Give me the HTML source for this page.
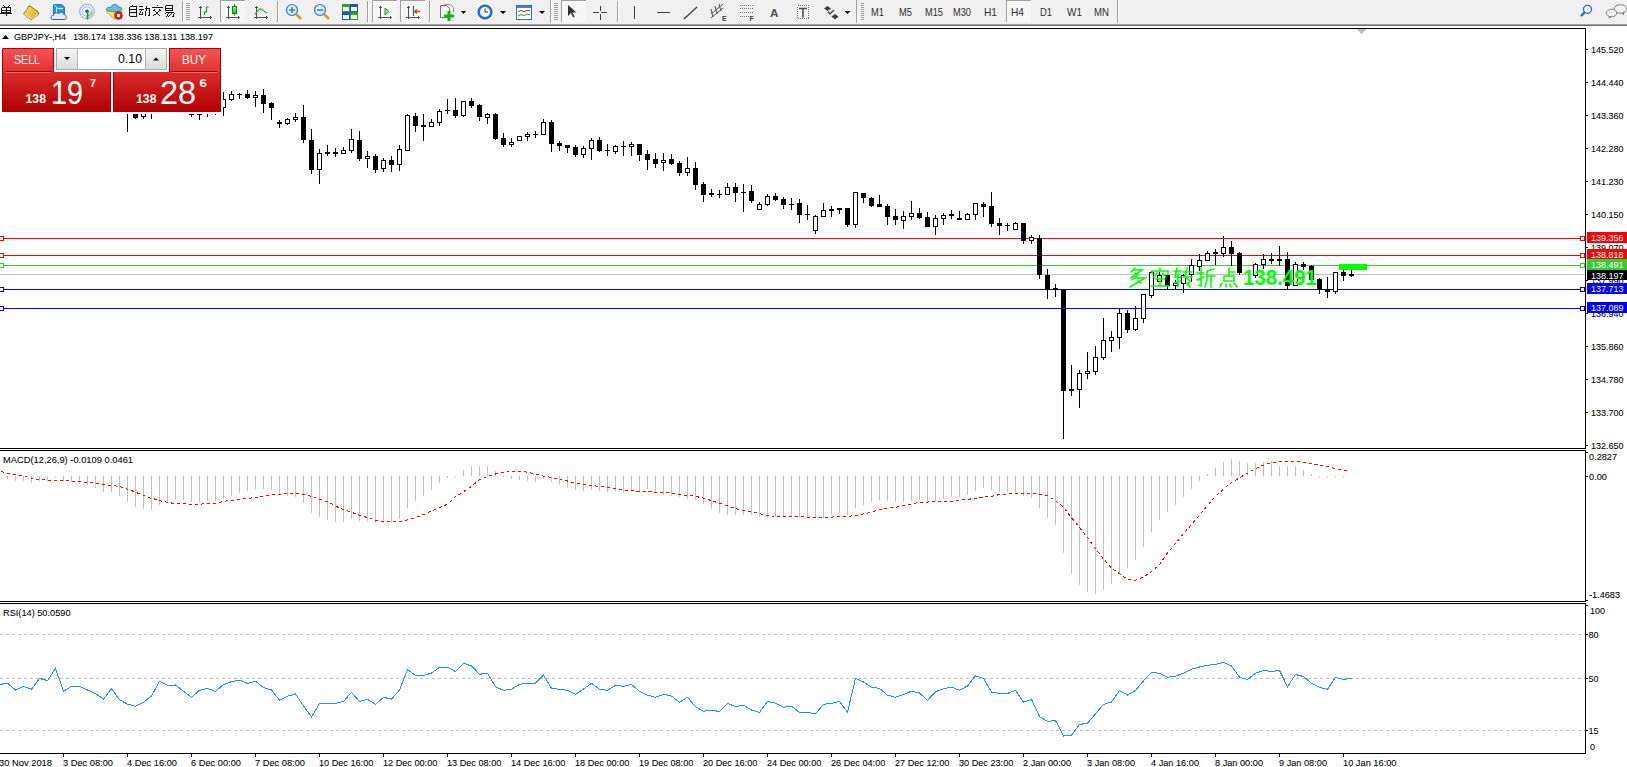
<!DOCTYPE html><html><head><meta charset="utf-8"><style>html,body{margin:0;padding:0;width:1627px;height:767px;overflow:hidden;background:#fff}svg{display:block}text{font-family:"Liberation Sans",sans-serif}.t{stroke:#000;stroke-width:0.08}</style></head><body>
<svg width="1627" height="767" viewBox="0 0 1627 767">
<g shape-rendering="crispEdges">
<rect x="0" y="0" width="1627" height="24" fill="#f0f0f0"/>
<rect x="0" y="24" width="1627" height="1" fill="#a0a0a0"/>
<rect x="0" y="25" width="1627" height="1" fill="#6e6e6e"/>
</g>
<g id="toolbar">
<defs>
<linearGradient id="gy" x1="0" y1="0" x2="1" y2="1"><stop offset="0" stop-color="#ffe680"/><stop offset="1" stop-color="#d9a000"/></linearGradient>
<linearGradient id="gb" x1="0" y1="0" x2="0" y2="1"><stop offset="0" stop-color="#48a8f0"/><stop offset="1" stop-color="#0060c8"/></linearGradient>
<radialGradient id="gl" cx="0.4" cy="0.35" r="0.7"><stop offset="0" stop-color="#ffffff"/><stop offset="1" stop-color="#b8def8"/></radialGradient>
<linearGradient id="gg" x1="0" y1="0" x2="0" y2="1"><stop offset="0" stop-color="#90f090"/><stop offset="1" stop-color="#10c020"/></linearGradient>
</defs>
<!-- 单 -->
<g stroke="#000" stroke-width="0.9" fill="none" shape-rendering="crispEdges">
<path d="M2.5 5l1.5 1.5M9.5 5l-1.5 1.5M1.5 7.5h9v5h-9zM1.5 10h9M6 7.5v8.5M0 13.5h11.5"/>
</g>
<!-- book -->
<path d="M29 5.5L38 11.5L38.8 14.5L31 19.5L23.5 14L27 9.5Z" fill="url(#gy)" stroke="#a86a10" stroke-width="1"/>
<path d="M24.5 14L31 18.3" stroke="#f8e8a8" stroke-width="1.3"/>
<path d="M31.5 18.5L38.3 14" stroke="#e8d8a0" stroke-width="1.2"/>
<!-- terminal/cloud icon -->
<path d="M53.5 4.5h8l3 2.5v8h-11z" fill="#1898f0" stroke="#1080e0" stroke-width="1"/>
<path d="M53.5 4.5l3 2.5v8" stroke="#e0f4ff" stroke-width="0.9" fill="none"/>
<path d="M57.5 8.5h5.5" stroke="#fff" stroke-width="1.3"/>
<path d="M52.5 19.5C50.3 19.5 50.5 15.2 53.5 15.2C54 12.8 57.3 12 58.8 13.8C60 11.5 63.5 12 63.8 14.5C66.5 14.5 67 19.5 64.8 19.5Z" fill="#e4eaf4" stroke="#4a5e98" stroke-width="1"/>
<!-- signal -->
<circle cx="87" cy="11.5" r="7.3" fill="none" stroke="#6a90d8" stroke-width="1" opacity="0.8"/>
<circle cx="87" cy="11.5" r="4.8" fill="none" stroke="#8ab0e0" stroke-width="1" opacity="0.8"/>
<path d="M87.5 11.5V19.3A7.8 7.8 0 0 0 94.8 11.5Z" fill="#b8dcb0" opacity="0.85"/>
<path d="M91.7 11.5A4.3 4.3 0 0 1 87.5 15.8" stroke="#78b870" stroke-width="1" fill="none"/>
<circle cx="87" cy="11.3" r="1.8" fill="#2050c8"/>
<path d="M87.5 11.5v8" stroke="#10a020" stroke-width="1.4"/>
<!-- hat -->
<path d="M106 11L122 11L117 16L114.5 19.5Z" fill="#f6e060" stroke="#d0a018" stroke-width="0.9"/>
<path d="M106.2 9.5C106.5 7 110 7 111 7.5C111.5 3.5 117.5 3 118.5 7.3C121 6.5 122.8 8.5 121.5 9.8C118 12.5 109 12 106.2 9.5Z" fill="#6cbce8" stroke="#2a86b4" stroke-width="0.9"/>
<circle cx="118.5" cy="15.5" r="3.9" fill="#e02818" stroke="#b01808" stroke-width="0.8"/>
<rect x="117" y="14" width="3" height="3" fill="#fff"/>
<!-- 自动交易 -->
<g stroke="#000" stroke-width="0.9" fill="none" shape-rendering="crispEdges">
<path d="M133 5l-1 1.5M129.5 6.5h7v9.5h-7zM129.5 9.5h7M129.5 12.5h7"/>
<path d="M139 6.5h4M138.5 9.5h5.5M141 9.5l-2 5h4M142 12l1 2.5M144.5 8h4.5v7.5h-1.5M146.5 5.5v3.5l-1.5 6.5"/>
<path d="M157 4.5v1.5M151.5 7h11M154.5 8.5l-2 2M159.5 8.5l2 2M154 10.5l6 5.5M160 10.5l-7 5.5"/>
<path d="M165.5 5.5h7v5h-7zM165.5 8h7M166.5 11.5l-2 2M166 12.5h8l-1 4h-1M168.5 12.5l-3 4M171 12.5l-3 4"/>
</g>
<!-- separators / grips -->
<g shape-rendering="crispEdges">
<rect x="182" y="1" width="1" height="21" fill="#a0a0a0"/><rect x="183" y="1" width="1" height="21" fill="#fff"/>
<path d="M186 3h4M186 5h4M186 7h4M186 9h4M186 11h4M186 13h4M186 15h4M186 17h4M186 19h4" stroke="#a0a0a0" stroke-width="1"/>
<rect x="277" y="1" width="1" height="21" fill="#a0a0a0"/><rect x="278" y="1" width="1" height="21" fill="#fff"/>
<rect x="367" y="1" width="1" height="21" fill="#a0a0a0"/><rect x="368" y="1" width="1" height="21" fill="#fff"/>
<rect x="429" y="1" width="1" height="21" fill="#a0a0a0"/><rect x="430" y="1" width="1" height="21" fill="#fff"/>
<rect x="550" y="0" width="1" height="23" fill="#a0a0a0"/><rect x="551" y="0" width="1" height="23" fill="#fff"/>
<path d="M554 3h4M554 5h4M554 7h4M554 9h4M554 11h4M554 13h4M554 15h4M554 17h4M554 19h4" stroke="#a0a0a0" stroke-width="1"/>
<rect x="617" y="1" width="1" height="21" fill="#a0a0a0"/><rect x="618" y="1" width="1" height="21" fill="#fff"/>
<rect x="856" y="0" width="1" height="23" fill="#a0a0a0"/><rect x="857" y="0" width="1" height="23" fill="#fff"/>
<path d="M861 3h3M861 5h3M861 7h3M861 9h3M861 11h3M861 13h3M861 15h3M861 17h3M861 19h3" stroke="#a0a0a0" stroke-width="1"/>
<rect x="1117" y="0" width="1" height="23" fill="#a0a0a0"/><rect x="1118" y="0" width="1" height="23" fill="#fff"/>
</g>
<!-- pressed buttons -->
<g shape-rendering="crispEdges">
<rect x="220" y="0" width="25" height="22" fill="#f6f6f6"/><rect x="220" y="0" width="25" height="1" fill="#a0a0a0"/><rect x="220" y="0" width="1" height="22" fill="#a0a0a0"/>
<rect x="372" y="0" width="25" height="22" fill="#f6f6f6"/><rect x="372" y="0" width="25" height="1" fill="#a0a0a0"/><rect x="372" y="0" width="1" height="22" fill="#a0a0a0"/>
<rect x="400" y="0" width="25" height="22" fill="#f6f6f6"/><rect x="400" y="0" width="25" height="1" fill="#a0a0a0"/><rect x="400" y="0" width="1" height="22" fill="#a0a0a0"/>
<rect x="561" y="0" width="25" height="22" fill="#f6f6f6"/><rect x="561" y="0" width="25" height="1" fill="#a0a0a0"/><rect x="561" y="0" width="1" height="22" fill="#a0a0a0"/>
<rect x="1006" y="0" width="25" height="22" fill="#f6f6f6"/><rect x="1006" y="0" width="25" height="1" fill="#a0a0a0"/><rect x="1006" y="0" width="1" height="22" fill="#a0a0a0"/>
</g>
<!-- chart type icons -->
<g stroke="#505050" stroke-width="1" fill="none" shape-rendering="crispEdges">
<path d="M200.5 6v13M198 17.5h14M199 8l1.5-1.5 1.5 1.5M210 16l1.5 1.5-1.5 1.5"/>
<path d="M228.5 6v13M226 17.5h14M227 8l1.5-1.5 1.5 1.5M238 16l1.5 1.5-1.5 1.5"/>
<path d="M256.5 6v13M254 17.5h14M255 8l1.5-1.5 1.5 1.5M266 16l1.5 1.5-1.5 1.5"/>
</g>
<path d="M204.5 15v-3h2v-5h2" stroke="#10a020" stroke-width="1.2" fill="none"/>
<rect x="232.5" y="6.5" width="4" height="7" fill="url(#gg)" stroke="#009010" stroke-width="1"/>
<path d="M234.5 4v2.5M234.5 13.5v2" stroke="#009010" stroke-width="1"/>
<path d="M255 14.5c2-3 4-6 6-5.5s3 3 6 4" stroke="#30a030" stroke-width="1.2" fill="none"/>
<!-- zoom icons -->
<circle cx="292" cy="10" r="5.5" fill="url(#gl)" stroke="#2878c8" stroke-width="1.2"/>
<path d="M289 10h6M292 7v6" stroke="#3880b0" stroke-width="1.6"/>
<path d="M296 14l5 5" stroke="#c8a020" stroke-width="2.6"/>
<circle cx="320" cy="10" r="5.5" fill="url(#gl)" stroke="#2878c8" stroke-width="1.2"/>
<path d="M317 10h6" stroke="#3880b0" stroke-width="1.6"/>
<path d="M324 14l5 5" stroke="#c8a020" stroke-width="2.6"/>
<!-- tile windows -->
<g shape-rendering="crispEdges">
<rect x="342" y="4" width="8" height="8" fill="#30a020"/><rect x="350" y="4" width="8" height="8" fill="#2050d0"/>
<rect x="342" y="12" width="8" height="8" fill="#2050d0"/><rect x="350" y="12" width="8" height="8" fill="#30a020"/>
<rect x="343" y="7" width="6" height="4" fill="#fff"/><rect x="351" y="7" width="6" height="4" fill="#fff"/>
<rect x="343" y="15" width="6" height="4" fill="#fff"/><rect x="351" y="15" width="6" height="4" fill="#fff"/>
</g>
<!-- autoscroll / shift -->
<g stroke="#505050" stroke-width="1" fill="none" shape-rendering="crispEdges">
<path d="M380.5 6v13M378 17.5h14M379 8l1.5-1.5 1.5 1.5M390 16l1.5 1.5-1.5 1.5"/>
<path d="M408.5 6v13M406 17.5h14M407 8l1.5-1.5 1.5 1.5M418 16l1.5 1.5-1.5 1.5"/>
</g>
<path d="M385 8l4 3.5-4 3.5z" fill="#90e090" stroke="#20a020" stroke-width="1"/>
<path d="M413.5 6v10" stroke="#2070b0" stroke-width="1.2"/>
<path d="M420 11.5h-5M417 9.5l-2.5 2 2.5 2" stroke="#e04010" stroke-width="1.3" fill="none"/>
<!-- new chart -->
<path d="M440.5 5.5h6l3 3v9h-9z" fill="#f4f4f4" stroke="#707070" stroke-width="1"/>
<path d="M444.5 4.5h6l3 3v5" fill="none" stroke="#909090" stroke-width="1"/>
<path d="M449 11v10M444 16h10" stroke="#10b020" stroke-width="3"/>
<path d="M461 11h5l-2.5 3z" fill="#000"/>
<!-- clock -->
<circle cx="485" cy="12" r="7" fill="#2878d8" stroke="#1050a0" stroke-width="1"/>
<circle cx="485" cy="12" r="5" fill="#f8f8f8"/>
<path d="M485 8.5v3.5h3" stroke="#303030" stroke-width="1" fill="none"/>
<path d="M500 11h6l-3 3z" fill="#000"/>
<!-- templates -->
<rect x="516.5" y="5.5" width="15" height="14" fill="#fff" stroke="#3070c0" stroke-width="1"/>
<rect x="517" y="6" width="14" height="2" fill="#4080d0"/>
<path d="M518 11.5l3-1 3 1 3-1 3 0" stroke="#c03010" stroke-width="1" fill="none"/>
<path d="M518 16l3-1.5 3 1 3-1.5 3 1" stroke="#20a020" stroke-width="1" fill="none"/>
<path d="M539 11h6l-3 3z" fill="#000"/>
<!-- drawing tools -->
<path d="M568 5v11l3-3 2 4.5 1.5-.7-2-4.3h4z" fill="#303030"/>
<g stroke="#404040" stroke-width="1" fill="none" shape-rendering="crispEdges">
<path d="M593 12.5h6M601 12.5h6M600.5 6v5M600.5 14v6"/>
<path d="M634.5 6v13"/>
<path d="M657 12.5h13"/>
</g>
<path d="M684 19l13-12" stroke="#404040" stroke-width="1.2"/>
<path d="M711 14l12-10M711 18l12-10M713 17l-2-8M717 14l-2-8M721 11l-2-7" stroke="#505050" stroke-width="1" fill="none"/>
<text x="722" y="21" font-size="7" font-weight="bold" fill="#404040">E</text>
<g stroke="#707070" stroke-width="1" stroke-dasharray="1,1" fill="none" shape-rendering="crispEdges">
<path d="M740 5.5h14M740 8.5h14M740 12.5h14M740 16.5h9"/>
</g>
<text x="749.5" y="20.5" font-size="7" font-weight="bold" fill="#404040">F</text>
<text x="770" y="17" font-size="11.5" font-weight="bold" fill="#505050" textLength="8.5" lengthAdjust="spacingAndGlyphs">A</text>
<rect x="797.5" y="5.5" width="11" height="13" fill="none" stroke="#707070" stroke-width="1" stroke-dasharray="1,1" shape-rendering="crispEdges"/>
<path d="M799 8.5h8M803 8.5v9" stroke="#505050" stroke-width="1.6" fill="none"/>
<path d="M827.5 6l3.5 2.5-3.5 2.5-3.5-2.5z" fill="#404040"/>
<path d="M828 11.5l2 2.5 4-4" stroke="#404040" stroke-width="1.3" fill="none"/>
<path d="M835 14l3.5 2.5-3.5 3-3.5-3z" fill="#404040"/>
<path d="M844.5 11h6l-3 3z" fill="#000"/>
<!-- periods -->
<g font-size="10.5" fill="#303030">
<text x="871" y="16" textLength="13" lengthAdjust="spacingAndGlyphs">M1</text>
<text x="899" y="16" textLength="13" lengthAdjust="spacingAndGlyphs">M5</text>
<text x="925" y="16" textLength="18" lengthAdjust="spacingAndGlyphs">M15</text>
<text x="953" y="16" textLength="18" lengthAdjust="spacingAndGlyphs">M30</text>
<text x="984" y="16" textLength="13" lengthAdjust="spacingAndGlyphs">H1</text>
<text x="1011" y="16" textLength="13" lengthAdjust="spacingAndGlyphs">H4</text>
<text x="1040" y="16" textLength="12" lengthAdjust="spacingAndGlyphs">D1</text>
<text x="1067" y="16" textLength="15" lengthAdjust="spacingAndGlyphs">W1</text>
<text x="1094" y="16" textLength="15" lengthAdjust="spacingAndGlyphs">MN</text>
</g>
<!-- search + chat -->
<circle cx="1587.5" cy="9.3" r="4" fill="#fafaff" stroke="#2868d0" stroke-width="1.3"/>
<path d="M1585 12l-4 4" stroke="#2060d0" stroke-width="2.3"/>
<ellipse cx="1620.5" cy="9" rx="6.3" ry="4.3" fill="#f2f2f6" stroke="#808080" stroke-width="1"/>
<path d="M1622 13l2 2.2v-2.5z" fill="#606060"/>
<ellipse cx="1611.5" cy="13" rx="5.2" ry="3.8" fill="#f2f2f6" stroke="#808080" stroke-width="1"/>
<path d="M1609.5 16.5l-1.2 2.2 3-2z" fill="#606060"/>
</g>

<g shape-rendering="crispEdges">
<rect x="0" y="274" width="1585" height="1" fill="#c0c0c0"/>
<rect x="0" y="238" width="1585" height="1" fill="#ff0000"/>
<rect x="-0.5" y="236.5" width="4" height="4" fill="#fff" stroke="#ff0000" stroke-width="1"/>
<rect x="1580.5" y="236.5" width="4" height="4" fill="#fff" stroke="#ff0000" stroke-width="1"/>
<rect x="0" y="255" width="1585" height="1" fill="#ff0000"/>
<rect x="-0.5" y="253.5" width="4" height="4" fill="#fff" stroke="#ff0000" stroke-width="1"/>
<rect x="1580.5" y="253.5" width="4" height="4" fill="#fff" stroke="#ff0000" stroke-width="1"/>
<rect x="0" y="265" width="1585" height="1" fill="#32cd32"/>
<rect x="-0.5" y="263.5" width="4" height="4" fill="#fff" stroke="#32cd32" stroke-width="1"/>
<rect x="1580.5" y="263.5" width="4" height="4" fill="#fff" stroke="#32cd32" stroke-width="1"/>
<rect x="0" y="289" width="1585" height="1" fill="#0000ff"/>
<rect x="-0.5" y="287.5" width="4" height="4" fill="#fff" stroke="#0000ff" stroke-width="1"/>
<rect x="1580.5" y="287.5" width="4" height="4" fill="#fff" stroke="#0000ff" stroke-width="1"/>
<rect x="0" y="308" width="1585" height="1" fill="#0000ff"/>
<rect x="-0.5" y="306.5" width="4" height="4" fill="#fff" stroke="#0000ff" stroke-width="1"/>
<rect x="1580.5" y="306.5" width="4" height="4" fill="#fff" stroke="#0000ff" stroke-width="1"/>
</g>
<g shape-rendering="crispEdges">
<path d="M127 100h1v32h-1zM125 100h5v1h-5zM135 100h1v19h-1zM133 105h5v13h-5zM143 100h1v19h-1zM141 105h5v12h-5zM151 100h1v19h-1zM149 105h5v6h-5zM191 100h1v17h-1zM189 105h5v10h-5zM199 100h1v20h-1zM197 105h5v10h-5zM207 100h1v17h-1zM205 105h5v6h-5zM215 100h1v15h-1zM213 105h5v6h-5zM223 92h1v24h-1zM221 99h5v9h-5zM231 91h1v10h-1zM229 94h5v6h-5zM239 93h1v6h-1zM237 94h5v1h-5zM247 90h1v9h-1zM245 94h5v4h-5zM255 91h1v16h-1zM253 95h5v3h-5zM263 89h1v24h-1zM261 95h5v9h-5zM271 102h1v18h-1zM269 103h5v5h-5zM279 120h1v8h-1zM277 122h5v2h-5zM287 118h1v7h-1zM285 119h5v5h-5zM295 113h1v9h-1zM293 117h5v3h-5zM303 105h1v38h-1zM301 117h5v23h-5zM311 129h1v45h-1zM309 140h5v30h-5zM319 149h1v35h-1zM317 153h5v17h-5zM327 145h1v11h-1zM325 152h5v2h-5zM335 148h1v9h-1zM333 152h5v2h-5zM343 147h1v7h-1zM341 150h5v4h-5zM351 129h1v24h-1zM349 139h5v12h-5zM359 131h1v30h-1zM357 140h5v19h-5zM367 151h1v17h-1zM365 156h5v3h-5zM375 154h1v19h-1zM373 156h5v14h-5zM383 158h1v14h-1zM381 160h5v9h-5zM391 156h1v16h-1zM389 160h5v5h-5zM399 145h1v26h-1zM397 149h5v16h-5zM407 114h1v37h-1zM405 115h5v36h-5zM415 113h1v19h-1zM413 116h5v10h-5zM423 114h1v27h-1zM421 125h5v2h-5zM431 119h1v8h-1zM429 122h5v5h-5zM439 109h1v17h-1zM437 111h5v12h-5zM447 99h1v15h-1zM445 110h5v1h-5zM455 98h1v20h-1zM453 110h5v6h-5zM463 101h1v16h-1zM461 101h5v15h-5zM471 98h1v10h-1zM469 101h5v5h-5zM479 104h1v17h-1zM477 105h5v12h-5zM487 113h1v11h-1zM485 114h5v4h-5zM495 113h1v27h-1zM493 114h5v25h-5zM503 133h1v14h-1zM501 138h5v7h-5zM511 138h1v9h-1zM509 142h5v3h-5zM519 136h1v5h-1zM517 136h5v5h-5zM527 132h1v9h-1zM525 134h5v3h-5zM535 131h1v7h-1zM533 134h5v1h-5zM543 119h1v16h-1zM541 122h5v13h-5zM551 120h1v32h-1zM549 122h5v22h-5zM559 141h1v10h-1zM557 143h5v3h-5zM567 145h1v8h-1zM565 145h5v3h-5zM575 145h1v12h-1zM573 147h5v8h-5zM583 146h1v12h-1zM581 148h5v7h-5zM591 138h1v22h-1zM589 140h5v9h-5zM599 137h1v15h-1zM597 140h5v11h-5zM607 144h1v12h-1zM605 150h5v1h-5zM615 145h1v9h-1zM613 146h5v6h-5zM623 141h1v15h-1zM621 146h5v1h-5zM631 142h1v14h-1zM629 144h5v3h-5zM639 144h1v17h-1zM637 144h5v11h-5zM647 150h1v20h-1zM645 154h5v6h-5zM655 153h1v15h-1zM653 159h5v5h-5zM663 153h1v18h-1zM661 160h5v3h-5zM671 154h1v11h-1zM669 159h5v5h-5zM679 161h1v15h-1zM677 163h5v10h-5zM687 157h1v19h-1zM685 168h5v5h-5zM695 162h1v28h-1zM693 168h5v17h-5zM703 182h1v20h-1zM701 184h5v11h-5zM711 189h1v8h-1zM709 193h5v2h-5zM719 190h1v8h-1zM717 194h5v1h-5zM727 183h1v12h-1zM725 187h5v8h-5zM735 183h1v19h-1zM733 187h5v6h-5zM743 184h1v28h-1zM741 192h5v1h-5zM751 185h1v18h-1zM749 191h5v10h-5zM759 202h1v8h-1zM757 204h5v6h-5zM767 194h1v12h-1zM765 196h5v9h-5zM775 193h1v8h-1zM773 196h5v4h-5zM783 197h1v12h-1zM781 199h5v6h-5zM791 198h1v12h-1zM789 204h5v1h-5zM799 199h1v24h-1zM797 203h5v12h-5zM807 205h1v15h-1zM805 214h5v1h-5zM815 215h1v19h-1zM813 216h5v15h-5zM823 203h1v14h-1zM821 210h5v7h-5zM831 206h1v11h-1zM829 209h5v2h-5zM839 208h1v6h-1zM837 208h5v2h-5zM847 208h1v19h-1zM845 208h5v17h-5zM855 192h1v36h-1zM853 192h5v33h-5zM863 193h1v10h-1zM861 193h5v5h-5zM871 197h1v10h-1zM869 198h5v8h-5zM879 195h1v12h-1zM877 204h5v3h-5zM887 204h1v21h-1zM885 206h5v11h-5zM895 209h1v16h-1zM893 216h5v4h-5zM903 211h1v18h-1zM901 216h5v5h-5zM911 201h1v19h-1zM909 213h5v4h-5zM919 208h1v11h-1zM917 213h5v5h-5zM927 212h1v15h-1zM925 217h5v10h-5zM935 215h1v20h-1zM933 218h5v9h-5zM943 213h1v12h-1zM941 215h5v4h-5zM951 210h1v9h-1zM949 214h5v2h-5zM959 211h1v9h-1zM957 218h5v2h-5zM967 213h1v7h-1zM965 214h5v6h-5zM975 203h1v17h-1zM973 203h5v12h-5zM983 202h1v15h-1zM981 204h5v3h-5zM991 192h1v35h-1zM989 206h5v18h-5zM999 218h1v17h-1zM997 223h5v3h-5zM1007 223h1v8h-1zM1005 225h5v1h-5zM1015 222h1v8h-1zM1013 223h5v7h-5zM1023 223h1v21h-1zM1021 223h5v18h-5zM1031 235h1v9h-1zM1029 237h5v4h-5zM1039 235h1v44h-1zM1037 238h5v37h-5zM1047 269h1v30h-1zM1045 275h5v15h-5zM1055 284h1v13h-1zM1053 288h5v2h-5zM1063 289h1v150h-1zM1061 289h5v102h-5zM1071 365h1v31h-1zM1069 389h5v2h-5zM1079 370h1v38h-1zM1077 373h5v17h-5zM1087 352h1v27h-1zM1085 371h5v3h-5zM1095 346h1v29h-1zM1093 357h5v15h-5zM1103 318h1v42h-1zM1101 340h5v18h-5zM1111 331h1v21h-1zM1109 337h5v4h-5zM1119 309h1v40h-1zM1117 313h5v25h-5zM1127 310h1v23h-1zM1125 313h5v17h-5zM1135 306h1v25h-1zM1133 318h5v12h-5zM1143 294h1v29h-1zM1141 294h5v25h-5zM1151 271h1v27h-1zM1149 272h5v24h-5zM1159 272h1v10h-1zM1157 275h5v7h-5zM1167 275h1v15h-1zM1165 275h5v11h-5zM1175 280h1v10h-1zM1173 283h5v3h-5zM1183 274h1v19h-1zM1181 275h5v9h-5zM1191 259h1v23h-1zM1189 265h5v10h-5zM1199 254h1v17h-1zM1197 260h5v7h-5zM1207 251h1v10h-1zM1205 253h5v8h-5zM1215 249h1v16h-1zM1213 252h5v2h-5zM1223 236h1v21h-1zM1221 247h5v7h-5zM1231 241h1v25h-1zM1229 247h5v7h-5zM1239 252h1v23h-1zM1237 253h5v20h-5zM1255 263h1v15h-1zM1253 264h5v12h-5zM1263 254h1v15h-1zM1261 259h5v6h-5zM1271 253h1v11h-1zM1269 259h5v2h-5zM1279 246h1v20h-1zM1277 259h5v2h-5zM1287 252h1v37h-1zM1285 259h5v27h-5zM1295 262h1v24h-1zM1293 264h5v22h-5zM1303 262h1v8h-1zM1301 264h5v3h-5zM1311 265h1v20h-1zM1309 266h5v14h-5zM1319 278h1v16h-1zM1317 279h5v11h-5zM1327 277h1v21h-1zM1325 289h5v3h-5zM1335 272h1v22h-1zM1333 272h5v20h-5zM1343 270h1v11h-1zM1341 272h5v4h-5zM1351 270h1v7h-1zM1349 274h5v2h-5z" fill="#000"/>
<path d="M142 106h3v10h-3zM190 106h3v8h-3zM198 106h3v8h-3zM206 106h3v4h-3zM214 106h3v4h-3zM222 100h3v7h-3zM230 95h3v4h-3zM254 96h3v1h-3zM286 120h3v3h-3zM294 118h3v1h-3zM318 154h3v15h-3zM342 151h3v2h-3zM350 140h3v10h-3zM366 157h3v1h-3zM382 161h3v7h-3zM398 150h3v14h-3zM406 116h3v34h-3zM430 123h3v3h-3zM438 112h3v10h-3zM462 102h3v13h-3zM486 115h3v2h-3zM510 143h3v1h-3zM518 137h3v3h-3zM526 135h3v1h-3zM542 123h3v11h-3zM582 149h3v5h-3zM590 141h3v7h-3zM614 147h3v4h-3zM630 145h3v1h-3zM662 161h3v1h-3zM686 169h3v3h-3zM726 188h3v6h-3zM758 205h3v4h-3zM766 197h3v7h-3zM814 217h3v13h-3zM822 211h3v5h-3zM854 193h3v31h-3zM902 217h3v3h-3zM910 214h3v2h-3zM934 219h3v7h-3zM942 216h3v2h-3zM966 215h3v4h-3zM974 204h3v10h-3zM1014 224h3v5h-3zM1030 238h3v2h-3zM1078 374h3v15h-3zM1086 372h3v1h-3zM1094 358h3v13h-3zM1102 341h3v16h-3zM1110 338h3v2h-3zM1118 314h3v23h-3zM1134 319h3v10h-3zM1142 295h3v23h-3zM1150 273h3v22h-3zM1158 276h3v5h-3zM1174 284h3v1h-3zM1182 276h3v7h-3zM1190 266h3v8h-3zM1198 261h3v5h-3zM1206 254h3v6h-3zM1222 248h3v5h-3zM1254 265h3v10h-3zM1262 260h3v4h-3zM1294 265h3v20h-3zM1334 273h3v18h-3z" fill="#fff"/>
<rect x="1339" y="264" width="28" height="6" fill="#00ff00"/>
</g>
<g shape-rendering="crispEdges" fill="#000">
<rect x="0" y="28" width="1586" height="1"/>
<rect x="1585" y="28" width="1" height="421"/>
<rect x="0" y="448" width="1586" height="1"/>
<rect x="0" y="450" width="1586" height="1"/>
<rect x="1585" y="450" width="1" height="152"/>
<rect x="0" y="601" width="1586" height="1"/>
<rect x="0" y="603" width="1586" height="1"/>
<rect x="1585" y="603" width="1" height="151"/>
<rect x="0" y="753" width="1586" height="1"/>
<rect x="1586" y="49" width="2" height="1"/>
<rect x="1586" y="82" width="2" height="1"/>
<rect x="1586" y="115" width="2" height="1"/>
<rect x="1586" y="148" width="2" height="1"/>
<rect x="1586" y="181" width="2" height="1"/>
<rect x="1586" y="214" width="2" height="1"/>
<rect x="1586" y="247" width="2" height="1"/>
<rect x="1586" y="280" width="2" height="1"/>
<rect x="1586" y="313" width="2" height="1"/>
<rect x="1586" y="346" width="2" height="1"/>
<rect x="1586" y="379" width="2" height="1"/>
<rect x="1586" y="412" width="2" height="1"/>
<rect x="1586" y="445" width="2" height="1"/>
<rect x="1586" y="452" width="2" height="1"/>
<rect x="1586" y="476" width="2" height="1"/>
<rect x="1586" y="600" width="2" height="1"/>
<rect x="1586" y="605" width="2" height="1"/>
<rect x="1586" y="634" width="2" height="1"/>
<rect x="1586" y="678" width="2" height="1"/>
<rect x="1586" y="730" width="2" height="1"/>
<rect x="63" y="754" width="1" height="3"/>
<rect x="127" y="754" width="1" height="3"/>
<rect x="191" y="754" width="1" height="3"/>
<rect x="255" y="754" width="1" height="3"/>
<rect x="319" y="754" width="1" height="3"/>
<rect x="383" y="754" width="1" height="3"/>
<rect x="447" y="754" width="1" height="3"/>
<rect x="511" y="754" width="1" height="3"/>
<rect x="575" y="754" width="1" height="3"/>
<rect x="639" y="754" width="1" height="3"/>
<rect x="703" y="754" width="1" height="3"/>
<rect x="767" y="754" width="1" height="3"/>
<rect x="831" y="754" width="1" height="3"/>
<rect x="895" y="754" width="1" height="3"/>
<rect x="959" y="754" width="1" height="3"/>
<rect x="1023" y="754" width="1" height="3"/>
<rect x="1087" y="754" width="1" height="3"/>
<rect x="1151" y="754" width="1" height="3"/>
<rect x="1215" y="754" width="1" height="3"/>
<rect x="1279" y="754" width="1" height="3"/>
<rect x="1343" y="754" width="1" height="3"/>
</g>
<path d="M1356 29h10l-5 5z" fill="#c0c0c0" shape-rendering="crispEdges"/>
<text x="1591" y="53" font-size="9.6" fill="#000" textLength="32.5" lengthAdjust="spacingAndGlyphs" class="t" >145.520</text>
<text x="1591" y="86" font-size="9.6" fill="#000" textLength="32.5" lengthAdjust="spacingAndGlyphs" class="t" >144.440</text>
<text x="1591" y="119" font-size="9.6" fill="#000" textLength="32.5" lengthAdjust="spacingAndGlyphs" class="t" >143.360</text>
<text x="1591" y="152" font-size="9.6" fill="#000" textLength="32.5" lengthAdjust="spacingAndGlyphs" class="t" >142.280</text>
<text x="1591" y="185" font-size="9.6" fill="#000" textLength="32.5" lengthAdjust="spacingAndGlyphs" class="t" >141.230</text>
<text x="1591" y="218" font-size="9.6" fill="#000" textLength="32.5" lengthAdjust="spacingAndGlyphs" class="t" >140.150</text>
<text x="1591" y="251" font-size="9.6" fill="#000" textLength="32.5" lengthAdjust="spacingAndGlyphs" class="t" >139.070</text>
<text x="1591" y="284" font-size="9.6" fill="#000" textLength="32.5" lengthAdjust="spacingAndGlyphs" class="t" >137.990</text>
<text x="1591" y="317" font-size="9.6" fill="#000" textLength="32.5" lengthAdjust="spacingAndGlyphs" class="t" >136.940</text>
<text x="1591" y="350" font-size="9.6" fill="#000" textLength="32.5" lengthAdjust="spacingAndGlyphs" class="t" >135.860</text>
<text x="1591" y="383" font-size="9.6" fill="#000" textLength="32.5" lengthAdjust="spacingAndGlyphs" class="t" >134.780</text>
<text x="1591" y="416" font-size="9.6" fill="#000" textLength="32.5" lengthAdjust="spacingAndGlyphs" class="t" >133.700</text>
<text x="1591" y="449" font-size="9.6" fill="#000" textLength="32.5" lengthAdjust="spacingAndGlyphs" class="t" >132.650</text>
<rect x="1587" y="270" width="40" height="10" fill="#000" shape-rendering="crispEdges"/>
<text x="1591" y="279" font-size="9.6" fill="#fff" textLength="32.5" lengthAdjust="spacingAndGlyphs" >138.197</text>
<rect x="1587" y="232" width="40" height="11" fill="#ff0000" shape-rendering="crispEdges"/>
<text x="1591" y="241" font-size="9.6" fill="#fff" textLength="32.5" lengthAdjust="spacingAndGlyphs" >139.356</text>
<rect x="1587" y="249" width="40" height="11" fill="#ff0000" shape-rendering="crispEdges"/>
<text x="1591" y="258" font-size="9.6" fill="#fff" textLength="32.5" lengthAdjust="spacingAndGlyphs" >138.818</text>
<rect x="1587" y="259" width="40" height="11" fill="#32cd32" shape-rendering="crispEdges"/>
<text x="1591" y="268" font-size="9.6" fill="#fff" textLength="32.5" lengthAdjust="spacingAndGlyphs" >138.491</text>
<rect x="1587" y="283" width="40" height="11" fill="#0000ff" shape-rendering="crispEdges"/>
<text x="1591" y="292" font-size="9.6" fill="#fff" textLength="32.5" lengthAdjust="spacingAndGlyphs" >137.713</text>
<rect x="1587" y="302" width="40" height="11" fill="#0000ff" shape-rendering="crispEdges"/>
<text x="1591" y="311" font-size="9.6" fill="#fff" textLength="32.5" lengthAdjust="spacingAndGlyphs" >137.089</text>
<text x="1589" y="460" font-size="9.6" fill="#000" textLength="28" lengthAdjust="spacingAndGlyphs" class="t" >0.2827</text>
<text x="1589" y="480" font-size="9.6" fill="#000" textLength="18" lengthAdjust="spacingAndGlyphs" class="t" >0.00</text>
<text x="1589" y="598" font-size="9.6" fill="#000" textLength="31" lengthAdjust="spacingAndGlyphs" class="t" >-1.4683</text>
<text x="1590" y="614" font-size="9.6" fill="#000" textLength="15" lengthAdjust="spacingAndGlyphs" class="t" >100</text>
<text x="1588.5" y="638" font-size="9.6" fill="#000" textLength="10" lengthAdjust="spacingAndGlyphs" class="t" >80</text>
<text x="1588.5" y="682" font-size="9.6" fill="#000" textLength="10" lengthAdjust="spacingAndGlyphs" class="t" >50</text>
<text x="1588.5" y="734" font-size="9.6" fill="#000" textLength="10" lengthAdjust="spacingAndGlyphs" class="t" >15</text>
<text x="1590" y="750" font-size="9.6" fill="#000" textLength="5" lengthAdjust="spacingAndGlyphs" class="t" >0</text>
<path d="M7 476h1v3h-1zM15 476h1v5h-1zM23 476h1v5h-1zM31 476h1v7h-1zM39 476h1v5h-1zM47 476h1v5h-1zM55 476h1v1h-1zM63 476h1v5h-1zM71 476h1v6h-1zM79 476h1v8h-1zM87 476h1v9h-1zM95 476h1v12h-1zM103 476h1v16h-1zM111 476h1v16h-1zM119 476h1v20h-1zM127 476h1v26h-1zM135 476h1v31h-1zM143 476h1v33h-1zM151 476h1v34h-1zM159 476h1v29h-1zM167 476h1v26h-1zM175 476h1v24h-1zM183 476h1v24h-1zM191 476h1v26h-1zM199 476h1v26h-1zM207 476h1v25h-1zM215 476h1v25h-1zM223 476h1v23h-1zM231 476h1v20h-1zM239 476h1v17h-1zM247 476h1v15h-1zM255 476h1v13h-1zM263 476h1v13h-1zM271 476h1v14h-1zM279 476h1v18h-1zM287 476h1v20h-1zM295 476h1v21h-1zM303 476h1v27h-1zM311 476h1v37h-1zM319 476h1v41h-1zM327 476h1v44h-1zM335 476h1v46h-1zM343 476h1v46h-1zM351 476h1v43h-1zM359 476h1v45h-1zM367 476h1v45h-1zM375 476h1v47h-1zM383 476h1v47h-1zM391 476h1v47h-1zM399 476h1v43h-1zM407 476h1v32h-1zM415 476h1v25h-1zM423 476h1v20h-1zM431 476h1v14h-1zM439 476h1v7h-1zM447 476h1v2h-1zM455 476h1v1h-1zM463 470h1v6h-1zM471 466h1v10h-1zM479 466h1v10h-1zM487 466h1v10h-1zM495 471h1v5h-1zM503 476h1v1h-1zM511 476h1v3h-1zM519 476h1v4h-1zM527 476h1v5h-1zM535 476h1v6h-1zM543 476h1v3h-1zM551 476h1v6h-1zM559 476h1v9h-1zM567 476h1v11h-1zM575 476h1v14h-1zM583 476h1v15h-1zM591 476h1v14h-1zM599 476h1v15h-1zM607 476h1v16h-1zM615 476h1v15h-1zM623 476h1v17h-1zM631 476h1v15h-1zM639 476h1v15h-1zM647 476h1v13h-1zM655 476h1v17h-1zM663 476h1v19h-1zM671 476h1v20h-1zM679 476h1v21h-1zM687 476h1v23h-1zM695 476h1v24h-1zM703 476h1v28h-1zM711 476h1v33h-1zM719 476h1v37h-1zM727 476h1v39h-1zM735 476h1v39h-1zM743 476h1v39h-1zM751 476h1v39h-1zM759 476h1v41h-1zM767 476h1v42h-1zM775 476h1v41h-1zM783 476h1v40h-1zM791 476h1v41h-1zM799 476h1v41h-1zM807 476h1v42h-1zM815 476h1v42h-1zM823 476h1v42h-1zM831 476h1v39h-1zM839 476h1v37h-1zM847 476h1v39h-1zM855 476h1v32h-1zM863 476h1v29h-1zM871 476h1v26h-1zM879 476h1v24h-1zM887 476h1v25h-1zM895 476h1v26h-1zM903 476h1v26h-1zM911 476h1v25h-1zM919 476h1v24h-1zM927 476h1v26h-1zM935 476h1v26h-1zM943 476h1v23h-1zM951 476h1v21h-1zM959 476h1v21h-1zM967 476h1v19h-1zM975 476h1v15h-1zM983 476h1v12h-1zM991 476h1v14h-1zM999 476h1v16h-1zM1007 476h1v16h-1zM1015 476h1v16h-1zM1023 476h1v20h-1zM1031 476h1v22h-1zM1039 476h1v32h-1zM1047 476h1v42h-1zM1055 476h1v49h-1zM1063 476h1v77h-1zM1071 476h1v98h-1zM1079 476h1v109h-1zM1087 476h1v116h-1zM1095 476h1v118h-1zM1103 476h1v114h-1zM1111 476h1v108h-1zM1119 476h1v98h-1zM1127 476h1v92h-1zM1135 476h1v84h-1zM1143 476h1v71h-1zM1151 476h1v56h-1zM1159 476h1v44h-1zM1167 476h1v36h-1zM1175 476h1v29h-1zM1183 476h1v21h-1zM1191 476h1v13h-1zM1199 476h1v5h-1zM1207 474h1v2h-1zM1215 468h1v8h-1zM1223 462h1v14h-1zM1231 459h1v17h-1zM1239 461h1v15h-1zM1247 463h1v13h-1zM1255 463h1v13h-1zM1263 462h1v14h-1zM1271 461h1v15h-1zM1279 466h1v10h-1zM1287 466h1v10h-1zM1295 466h1v10h-1zM1303 470h1v6h-1zM1311 474h1v2h-1zM1319 476h1v1h-1zM1327 476h1v1h-1zM1335 476h1v1h-1zM1343 476h1v1h-1z" fill="#c0c0c0" shape-rendering="crispEdges"/>
<polyline points="1.2,471.4 6.4,473.0 12.3,474.2 18.4,475.4 24.2,476.4 30.1,477.9 36.3,479.1 42.0,479.5 48.2,480.4 54.3,480.4 60.5,480.4 66.6,480.6 72.5,481.3 78.3,481.3 84.8,482.2 90.6,482.6 96.5,483.4 102.3,484.4 108.4,485.3 114.3,485.7 120.5,486.9 126.6,489.0 132.4,491.0 138.3,493.3 144.4,495.7 150.6,498.2 156.4,499.4 162.3,501.3 168.0,502.5 174.2,503.4 180.1,503.4 186.2,503.7 192.4,504.3 199.5,504.3 207.5,503.5 215.5,503.5 223.5,501.3 231.5,500.4 239.5,499.4 247.5,498.4 255.5,497.6 263.5,496.3 271.5,494.5 279.5,494.5 287.5,493.5 295.5,493.5 303.5,494.5 311.5,496.3 319.5,499.4 327.5,501.6 335.5,506.2 343.5,509.5 351.5,512.3 359.5,515.2 367.5,517.6 375.5,520.3 383.5,521.3 391.5,521.4 399.5,521.4 407.5,519.9 415.5,517.7 423.5,514.6 431.5,510.9 439.5,507.6 447.5,504.2 455.5,496.8 463.5,491.6 471.5,486.3 479.5,479.6 487.5,476.5 495.5,474.0 503.5,472.5 511.5,471.3 519.5,471.3 527.5,472.2 535.5,474.0 543.5,476.1 551.5,477.5 559.5,479.6 567.5,481.0 575.5,483.5 583.5,484.4 591.5,485.3 599.5,486.5 607.5,487.5 615.5,488.6 623.5,490.2 631.5,490.4 639.5,491.4 647.5,491.4 655.5,492.4 663.5,492.4 671.5,493.3 679.5,494.5 687.5,495.5 695.5,496.3 703.5,498.2 711.5,500.6 719.5,503.4 727.5,505.6 735.5,508.6 743.5,510.5 751.5,511.5 759.5,513.6 767.5,515.4 775.5,516.4 783.5,516.4 791.5,516.4 799.5,516.4 807.5,517.2 815.5,517.2 823.5,517.2 831.5,517.2 839.5,516.4 847.5,516.4 855.5,515.4 863.5,513.9 871.5,512.3 879.5,509.3 887.5,508.3 895.5,507.4 903.5,505.6 911.5,504.1 919.5,502.1 927.5,502.1 935.5,501.3 943.5,501.3 951.5,501.3 959.5,500.3 967.5,499.3 975.5,498.5 983.5,497.1 991.5,496.3 999.5,494.6 1007.5,494.1 1015.5,493.4 1023.5,493.4 1031.5,493.7 1039.5,494.1 1047.5,495.8 1055.5,500.5 1063.5,507.3 1071.5,517.8 1079.5,527.6 1087.5,537.5 1095.5,548.8 1103.5,559.0 1111.5,568.0 1119.5,573.7 1127.5,579.3 1135.5,580.2 1143.5,577.1 1151.5,571.5 1159.5,564.7 1167.5,552.8 1175.5,543.5 1183.5,533.7 1191.5,524.5 1199.5,515.0 1207.5,505.4 1215.5,496.4 1223.5,489.0 1231.5,482.5 1239.5,477.8 1247.5,473.2 1255.5,468.6 1263.5,465.2 1271.5,462.5 1279.5,461.7 1287.5,461.3 1295.5,461.3 1303.5,462.2 1311.5,463.5 1319.5,465.2 1327.5,466.4 1335.5,468.6 1343.5,469.8 1349.0,471.5" fill="none" stroke="#ff0000" stroke-width="1" stroke-dasharray="3,3" shape-rendering="crispEdges"/>
<g shape-rendering="crispEdges">
<line x1="0" y1="634.5" x2="1585" y2="634.5" stroke="#c0c0c0" stroke-width="1" stroke-dasharray="3,3"/>
<line x1="0" y1="678.5" x2="1585" y2="678.5" stroke="#c0c0c0" stroke-width="1" stroke-dasharray="3,3"/>
<line x1="0" y1="730.5" x2="1585" y2="730.5" stroke="#c0c0c0" stroke-width="1" stroke-dasharray="3,3"/>
</g>
<polyline points="0.0,684.4 7.5,683.2 15.5,690.0 23.5,686.3 31.5,689.3 39.5,678.5 47.5,680.5 55.5,668.4 63.5,691.2 71.5,686.3 79.5,686.3 87.5,690.0 95.5,693.6 103.5,699.2 111.5,688.7 119.5,699.8 127.5,704.1 135.5,706.3 143.5,702.2 151.5,696.1 159.5,681.3 167.5,685.4 175.5,685.0 183.5,691.2 191.5,697.3 199.5,690.3 207.5,688.4 215.5,691.5 223.5,684.4 231.5,681.7 239.5,680.1 247.5,683.4 255.5,681.3 263.5,687.5 271.5,690.0 279.5,700.2 287.5,696.1 295.5,694.0 303.5,705.9 311.5,717.0 319.5,703.5 327.5,703.5 335.5,703.5 343.5,701.4 351.5,692.4 359.5,701.4 367.5,699.4 375.5,704.3 383.5,697.3 391.5,699.2 399.5,690.0 407.5,669.4 415.5,675.6 423.5,675.6 431.5,673.1 439.5,667.2 447.5,667.2 455.5,671.5 463.5,663.3 471.5,666.0 479.5,674.3 487.5,673.1 495.5,686.9 503.5,690.3 511.5,689.3 519.5,684.4 527.5,683.2 535.5,683.2 543.5,675.2 551.5,688.4 559.5,689.3 567.5,690.3 575.5,694.3 583.5,689.1 591.5,683.2 599.5,689.3 607.5,690.3 615.5,685.4 623.5,686.3 631.5,684.4 639.5,691.2 647.5,695.2 655.5,697.3 663.5,694.3 671.5,696.1 679.5,702.2 687.5,697.3 695.5,706.8 703.5,711.2 711.5,710.2 719.5,711.5 727.5,703.5 735.5,706.5 743.5,705.3 751.5,710.0 759.5,712.4 767.5,701.4 775.5,703.1 783.5,707.2 791.5,706.3 799.5,712.4 807.5,712.4 815.5,713.7 823.5,704.3 831.5,703.5 839.5,701.4 847.5,712.1 855.5,678.3 863.5,682.0 871.5,687.1 879.5,688.4 887.5,695.2 895.5,697.3 903.5,694.5 911.5,691.2 919.5,693.0 927.5,700.4 935.5,691.8 943.5,688.7 951.5,687.1 959.5,690.3 967.5,686.0 975.5,675.7 983.5,678.4 991.5,692.1 999.5,693.4 1007.5,693.4 1015.5,690.4 1023.5,702.3 1031.5,699.5 1039.5,716.5 1047.5,721.4 1055.5,720.4 1063.5,736.1 1071.5,735.1 1079.5,724.5 1087.5,723.2 1095.5,713.8 1103.5,704.4 1111.5,702.0 1119.5,690.6 1127.5,695.0 1135.5,690.4 1143.5,680.8 1151.5,672.5 1159.5,673.2 1167.5,677.2 1175.5,676.2 1183.5,673.1 1191.5,669.1 1199.5,667.0 1207.5,665.4 1215.5,664.3 1223.5,662.3 1231.5,666.0 1239.5,677.2 1247.5,679.5 1255.5,673.1 1263.5,670.4 1271.5,671.4 1279.5,670.4 1287.5,686.7 1295.5,674.5 1303.5,676.5 1311.5,683.3 1319.5,687.3 1327.5,689.4 1335.5,677.2 1343.5,679.5 1351.5,678.3" fill="none" stroke="#1e90ff" stroke-width="1" shape-rendering="crispEdges"/>
<path d="M2 39h7l-3.5-4z" fill="#000"/>
<text x="14" y="40" font-size="9.6" fill="#000" textLength="52" lengthAdjust="spacingAndGlyphs" class="t" >GBPJPY-,H4</text>
<text x="73" y="40" font-size="9.6" fill="#000" textLength="140" lengthAdjust="spacingAndGlyphs" class="t" >138.174 138.336 138.131 138.197</text>
<text x="3" y="463" font-size="9.6" fill="#000" textLength="130" lengthAdjust="spacingAndGlyphs" class="t" >MACD(12,26,9) -0.0109 0.0461</text>
<text x="3" y="616" font-size="9.6" fill="#000" textLength="67.5" lengthAdjust="spacingAndGlyphs" class="t" >RSI(14) 50.0590</text>
<text x="-1" y="766" font-size="9.6" fill="#000" textLength="53" lengthAdjust="spacingAndGlyphs" class="t" >30 Nov 2018</text>
<text x="63" y="766" font-size="9.6" fill="#000" textLength="50" lengthAdjust="spacingAndGlyphs" class="t" >3 Dec 08:00</text>
<text x="127" y="766" font-size="9.6" fill="#000" textLength="50" lengthAdjust="spacingAndGlyphs" class="t" >4 Dec 16:00</text>
<text x="191" y="766" font-size="9.6" fill="#000" textLength="50" lengthAdjust="spacingAndGlyphs" class="t" >6 Dec 00:00</text>
<text x="255" y="766" font-size="9.6" fill="#000" textLength="50" lengthAdjust="spacingAndGlyphs" class="t" >7 Dec 08:00</text>
<text x="319" y="766" font-size="9.6" fill="#000" textLength="54.3" lengthAdjust="spacingAndGlyphs" class="t" >10 Dec 16:00</text>
<text x="383" y="766" font-size="9.6" fill="#000" textLength="54.3" lengthAdjust="spacingAndGlyphs" class="t" >12 Dec 00:00</text>
<text x="447" y="766" font-size="9.6" fill="#000" textLength="54.3" lengthAdjust="spacingAndGlyphs" class="t" >13 Dec 08:00</text>
<text x="511" y="766" font-size="9.6" fill="#000" textLength="54.3" lengthAdjust="spacingAndGlyphs" class="t" >14 Dec 16:00</text>
<text x="575" y="766" font-size="9.6" fill="#000" textLength="54.3" lengthAdjust="spacingAndGlyphs" class="t" >18 Dec 00:00</text>
<text x="639" y="766" font-size="9.6" fill="#000" textLength="54.3" lengthAdjust="spacingAndGlyphs" class="t" >19 Dec 08:00</text>
<text x="703" y="766" font-size="9.6" fill="#000" textLength="54.3" lengthAdjust="spacingAndGlyphs" class="t" >20 Dec 16:00</text>
<text x="767" y="766" font-size="9.6" fill="#000" textLength="54.3" lengthAdjust="spacingAndGlyphs" class="t" >24 Dec 00:00</text>
<text x="831" y="766" font-size="9.6" fill="#000" textLength="54.3" lengthAdjust="spacingAndGlyphs" class="t" >26 Dec 04:00</text>
<text x="895" y="766" font-size="9.6" fill="#000" textLength="54.3" lengthAdjust="spacingAndGlyphs" class="t" >27 Dec 12:00</text>
<text x="959" y="766" font-size="9.6" fill="#000" textLength="54.3" lengthAdjust="spacingAndGlyphs" class="t" >30 Dec 23:00</text>
<text x="1023" y="766" font-size="9.6" fill="#000" textLength="48" lengthAdjust="spacingAndGlyphs" class="t" >2 Jan 00:00</text>
<text x="1087" y="766" font-size="9.6" fill="#000" textLength="48" lengthAdjust="spacingAndGlyphs" class="t" >3 Jan 08:00</text>
<text x="1151" y="766" font-size="9.6" fill="#000" textLength="48" lengthAdjust="spacingAndGlyphs" class="t" >4 Jan 16:00</text>
<text x="1215" y="766" font-size="9.6" fill="#000" textLength="48" lengthAdjust="spacingAndGlyphs" class="t" >8 Jan 00:00</text>
<text x="1279" y="766" font-size="9.6" fill="#000" textLength="48" lengthAdjust="spacingAndGlyphs" class="t" >9 Jan 08:00</text>
<text x="1343" y="766" font-size="9.6" fill="#000" textLength="53.5" lengthAdjust="spacingAndGlyphs" class="t" >10 Jan 16:00</text>
<g id="overlay">
<defs>
<linearGradient id="rt" x1="0" y1="0" x2="0" y2="1"><stop offset="0" stop-color="#f65555"/><stop offset="1" stop-color="#e03030"/></linearGradient>
<linearGradient id="rb" x1="0" y1="0" x2="0" y2="1"><stop offset="0" stop-color="#dc2c2c"/><stop offset="1" stop-color="#b00000"/></linearGradient>
<linearGradient id="bt" x1="0" y1="0" x2="0" y2="1"><stop offset="0" stop-color="#f4f4f4"/><stop offset="1" stop-color="#dcdcdc"/></linearGradient>
</defs>
<g shape-rendering="crispEdges">
<!-- white backing -->
<rect x="0" y="46" width="223" height="68" fill="#fff"/>
<!-- SELL tab + block -->
<rect x="2" y="48" width="52" height="24" fill="url(#rt)"/>
<rect x="2" y="72" width="109" height="40" fill="url(#rb)"/>
<rect x="6" y="71" width="45" height="1" fill="#a00000"/>
<rect x="6" y="72" width="45" height="1" fill="#f07070"/>
<!-- BUY tab + block -->
<rect x="169" y="48" width="52" height="24" fill="url(#rt)"/>
<rect x="113" y="72" width="108" height="40" fill="url(#rb)"/>
<rect x="172" y="71" width="45" height="1" fill="#a00000"/>
<rect x="172" y="72" width="45" height="1" fill="#f07070"/>
<!-- borders -->
<path d="M2.5 48.5h51v23M2.5 48.5v63h108v-40M169.5 71.5v-23h51v63h-107v-40" fill="none" stroke="#b00000" stroke-width="1"/>
<!-- spinner -->
<rect x="56.5" y="48.5" width="110" height="21" fill="#fff" stroke="#a8a8a8" stroke-width="1"/>
<rect x="57" y="49" width="20" height="20" fill="url(#bt)"/>
<rect x="77" y="49" width="1" height="20" fill="#b0b0b0"/>
<rect x="146" y="49" width="20" height="20" fill="url(#bt)"/>
<rect x="145" y="49" width="1" height="20" fill="#b0b0b0"/>
</g>
<path d="M64 57h6l-3 3z" fill="#000"/>
<path d="M153 60.5h6l-3-3z" fill="#000"/>
<text x="142" y="63" font-size="12" fill="#000" text-anchor="end" textLength="24" lengthAdjust="spacingAndGlyphs">0.10</text>
<text x="14" y="64" font-size="12" fill="#fff" textLength="26" lengthAdjust="spacingAndGlyphs">SELL</text>
<text x="182" y="64" font-size="12" fill="#fff" textLength="24" lengthAdjust="spacingAndGlyphs">BUY</text>
<text x="25.5" y="103" font-size="12" font-weight="bold" fill="#fff" textLength="20.5" lengthAdjust="spacingAndGlyphs">138</text>
<text x="51" y="103.5" font-size="33" fill="#fff" textLength="32" lengthAdjust="spacingAndGlyphs">19</text>
<text x="90" y="86.5" font-size="11" font-weight="bold" fill="#fff" textLength="6" lengthAdjust="spacingAndGlyphs">7</text>
<text x="136" y="103" font-size="12" font-weight="bold" fill="#fff" textLength="20.5" lengthAdjust="spacingAndGlyphs">138</text>
<text x="160" y="103.5" font-size="33" fill="#fff" textLength="36" lengthAdjust="spacingAndGlyphs">28</text>
<text x="199.5" y="86.5" font-size="11" font-weight="bold" fill="#fff" textLength="7.5" lengthAdjust="spacingAndGlyphs">6</text>
<!-- green chinese text 多空转折点 -->
<g stroke="#00ff00" stroke-width="1.6" fill="none" stroke-linecap="round">
<g transform="translate(1127,268)">
<path d="M8 0L4 4M6 2H15L4 10M8 5L11 7M10 8L5 12M9 10H18L3 19M11 13L14 15"/>
</g>
<g transform="translate(1150,268)">
<path d="M10 0V2M2 6V3H18V6M7 5L4 9M12 5L16 9M5 11H15M10 11V18M1 18H19"/>
</g>
<g transform="translate(1173,268)">
<path d="M1 3H8M4 0L2 9H8M5 5V19M1 15L8 13M10 4H19M14 0L12 9M10 9H19M12 9L17 13L14 17M14 15L17 19"/>
</g>
<g transform="translate(1196,268)">
<path d="M1 5H8M5 0V18L3 17M1 12L8 9M18 1L11 3M11 3V12L9 19M11 8H19M15 8V19"/>
</g>
<g transform="translate(1219,268)">
<path d="M10 0V8M10 4H16M5 8V13M5 8H15V13M5 13H15M3 15L1 19M7 16V19M11 16L12 19M15 15L18 19"/>
</g>
</g>
<text x="1243" y="285" font-size="22" font-weight="bold" fill="#00ff00" textLength="74" lengthAdjust="spacingAndGlyphs">138.491</text>
</g>

</svg></body></html>
